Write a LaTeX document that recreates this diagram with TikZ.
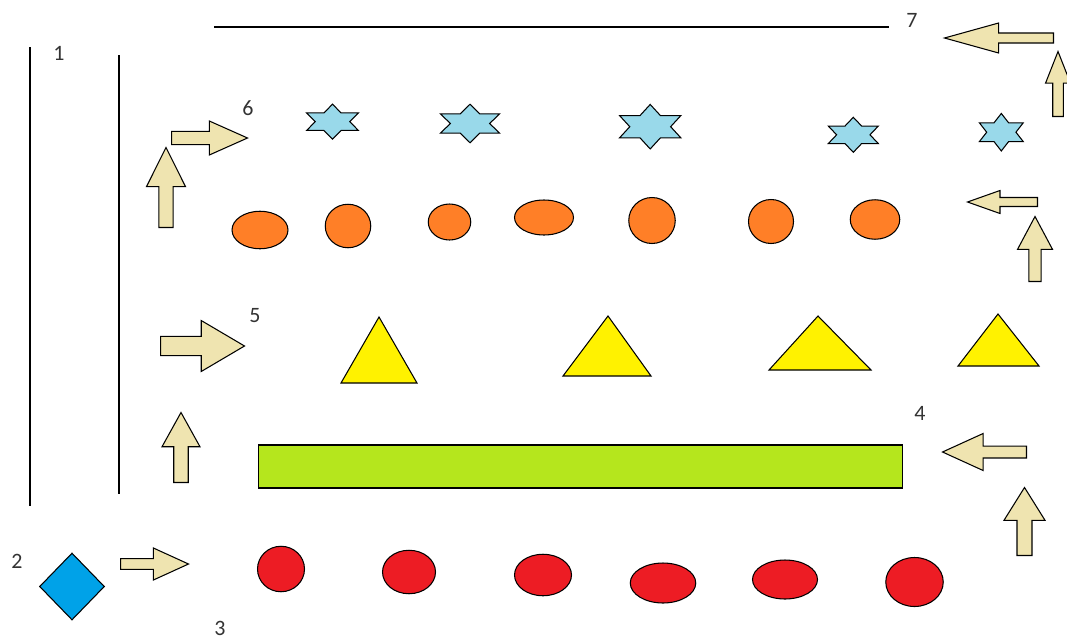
\documentclass[tikz,border=0pt]{standalone}
\usepackage{fontspec}
\setmainfont{Carlito}
\usetikzlibrary{shapes.geometric,shapes.arrows}
\definecolor{beige}{HTML}{EFE4B0}
\definecolor{skyb}{HTML}{99D9EA}
\definecolor{orng}{HTML}{FF7F27}
\definecolor{rd}{HTML}{ED1C24}
\definecolor{yel}{HTML}{FFF200}
\definecolor{lime}{HTML}{B5E61D}
\definecolor{blu}{HTML}{00A2E8}
\begin{document}
\begin{tikzpicture}[x=0.02cm,y=-0.02cm,line width=0.6pt,font=\fontsize{12.5}{15}\selectfont]
\tikzstyle{arr}=[single arrow,draw,fill=beige,inner xsep=0pt,single arrow head indent=0pt,anchor=tail]
\tikzstyle{hex}=[star,star points=6,star point ratio=1.732,draw,fill=skyb,inner sep=0pt,transform shape]
\tikzstyle{ov}=[ellipse,draw,inner sep=0pt]
\tikzstyle{tri}=[draw,fill=yel]
\tikzstyle{num}=[inner sep=0pt,text=black!80]
\useasboundingbox (0,0) rectangle (1067,639);
% frame lines
\draw (30,47) -- (30,506);
\draw (119,55) -- (119,494);
\draw (214,27) -- (889,27);
% numbers
\node[num] (n1) at (59,53) {1};
\node[num] (n2) at (17,561) {2};
\node[num] (n3) at (220,628) {3};
\node[num] (n4) at (920,413) {4};
\node[num] (n5) at (255,316) {5};
\node[num] (n6) at (248,108) {6};
\node[num] (n7) at (912,20) {7};
% block arrows (placed by their tails)
\node[arr,rotate=90,inner ysep=0.10cm,minimum height=1.6cm,minimum width=0.78cm,single arrow head extend=0.19cm,single arrow tip angle=53] (upa) at (166,228) {};
\node[arr,inner ysep=0.09cm,minimum height=1.52cm,minimum width=0.68cm,single arrow head extend=0.16cm,single arrow tip angle=48] (rta) at (171,138) {};
\node[arr,rotate=180,inner ysep=0.07cm,minimum height=2.18cm,minimum width=0.60cm,single arrow head extend=0.16cm,single arrow tip angle=31] (lfa) at (1054,38) {};
\node[arr,rotate=90,inner ysep=0.07cm,minimum height=1.30cm,minimum width=0.50cm,single arrow head extend=0.11cm,single arrow tip angle=43] (upb) at (1058,117) {};
\node[arr,rotate=180,inner ysep=0.06cm,minimum height=1.40cm,minimum width=0.46cm,single arrow head extend=0.11cm,single arrow tip angle=39] (lfb) at (1038,202) {};
\node[arr,rotate=90,inner ysep=0.085cm,minimum height=1.30cm,minimum width=0.70cm,single arrow head extend=0.18cm,single arrow tip angle=56] (upc) at (1035,282) {};
\node[arr,inner ysep=0.135cm,minimum height=1.68cm,minimum width=1.02cm,single arrow head extend=0.24cm,single arrow tip angle=61] (rtb) at (160,346) {};
\node[arr,rotate=90,inner ysep=0.10cm,minimum height=1.40cm,minimum width=0.76cm,single arrow head extend=0.18cm,single arrow tip angle=58] (upd) at (181,483) {};
\node[arr,rotate=180,inner ysep=0.085cm,minimum height=1.68cm,minimum width=0.74cm,single arrow head extend=0.20cm,single arrow tip angle=49] (lfc) at (1027,452) {};
\node[arr,rotate=90,inner ysep=0.105cm,minimum height=1.36cm,minimum width=0.82cm,single arrow head extend=0.20cm,single arrow tip angle=64] (upe) at (1024.5,556) {};
\node[arr,inner ysep=0.075cm,minimum height=1.36cm,minimum width=0.64cm,single arrow head extend=0.17cm,single arrow tip angle=49] (rtc) at (120,564) {};
% stars
\node[hex,minimum size=0.70cm,xscale=1.71] (s1) at (332.5,121.7) {};
\node[hex,minimum size=0.77cm,xscale=1.77] (s2) at (470,123.5) {};
\node[hex,minimum size=0.89cm,xscale=1.59] (s3) at (650.2,126.7) {};
\node[hex,minimum size=0.70cm,xscale=1.65] (s4) at (853.3,134.8) {};
\node[hex,minimum size=0.75cm,xscale=1.35] (s5) at (1001.3,132.2) {};
% orange ovals
\node[ov,fill=orng,minimum width=1.12cm,minimum height=0.75cm] (o1) at (260,230) {};
\node[ov,fill=orng,minimum width=0.91cm,minimum height=0.87cm] (o2) at (348,226) {};
\node[ov,fill=orng,minimum width=0.85cm,minimum height=0.72cm] (o3) at (449.5,222) {};
\node[ov,fill=orng,minimum width=1.18cm,minimum height=0.70cm] (o4) at (544,217.5) {};
\node[ov,fill=orng,minimum width=0.93cm,minimum height=0.92cm] (o5) at (652,220.5) {};
\node[ov,fill=orng,minimum width=0.90cm,minimum height=0.88cm] (o6) at (771,221.5) {};
\node[ov,fill=orng,minimum width=0.99cm,minimum height=0.79cm] (o7) at (875,219.5) {};
% triangles
\draw[tri] (341,383) -- (379,317) -- (417,383) -- cycle;
\draw[tri] (563,376) -- (608,316) -- (651,376) -- cycle;
\draw[tri] (769,370) -- (818,316) -- (871,370) -- cycle;
\draw[tri] (958,366) -- (998,314) -- (1039,366) -- cycle;
% green bar
\node[draw,fill=lime,inner sep=0pt,minimum width=12.9cm,minimum height=0.86cm] (bar) at (580.5,466.5) {};
% diamond
\node[diamond,draw,fill=blu,inner sep=0pt,minimum width=1.30cm,minimum height=1.34cm] (dia) at (72,586.5) {};
% red ovals
\node[ov,fill=rd,minimum width=0.94cm,minimum height=0.91cm] (r1) at (281,569) {};
\node[ov,fill=rd,minimum width=1.06cm,minimum height=0.87cm] (r2) at (409,572) {};
\node[ov,fill=rd,minimum width=1.14cm,minimum height=0.83cm] (r3) at (543,575) {};
\node[ov,fill=rd,minimum width=1.31cm,minimum height=0.80cm] (r4) at (663,583) {};
\node[ov,fill=rd,minimum width=1.30cm,minimum height=0.78cm] (r5) at (785,579.5) {};
\node[ov,fill=rd,minimum width=1.15cm,minimum height=0.98cm] (r6) at (914.5,582) {};
\end{tikzpicture}
\end{document}
